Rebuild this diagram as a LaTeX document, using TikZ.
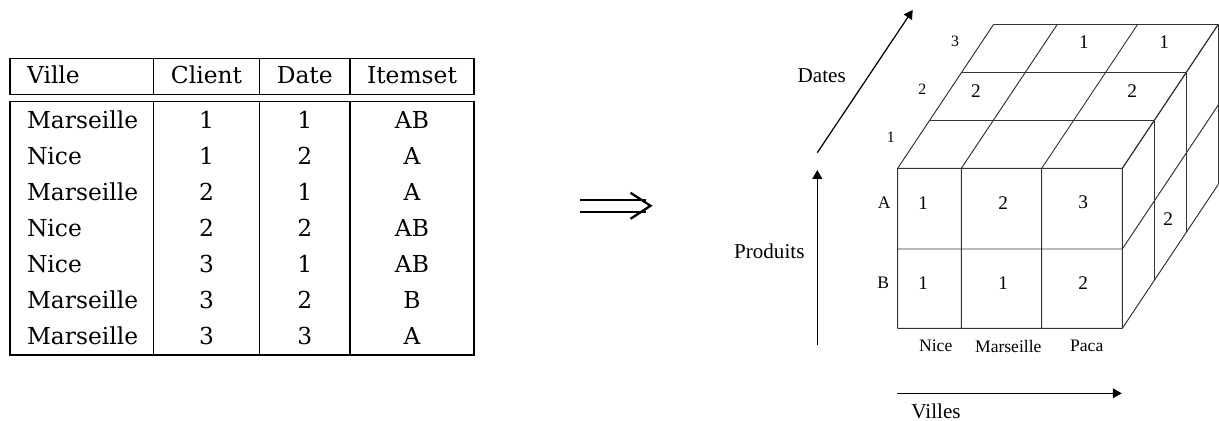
\documentclass[tikz,border=0pt]{standalone}
\usepackage{fontspec}
\newfontfamily\cubefont{Liberation Serif}
\newfontfamily\tabfont{DejaVu Serif}
\usetikzlibrary{arrows.meta}

\begin{document}
\begin{tikzpicture}[x=0.02cm,y=-0.02cm,
    tabline/.style={line width=0.6pt},
    tabcell/.style={inner sep=0pt,font=\tabfont\fontsize{13.3}{16}\selectfont},
    implline/.style={line width=1.3pt,line cap=butt},
    cubeline/.style={line width=0.55pt,black!80},
    cellval/.style={inner sep=0pt,font=\cubefont\fontsize{11}{13}\selectfont},
    axislbl/.style={inner sep=0pt,font=\cubefont\fontsize{12}{14}\selectfont},
    ticklbl/.style={inner sep=0pt,font=\cubefont\fontsize{10}{12}\selectfont},
    axisarrow/.style={line width=0.7pt,-{Triangle[length=5pt,width=5.5pt]}}]
    \useasboundingbox (0,0) rectangle (1219,421);

    % table
    \draw[tabline] (10,58.3) rectangle (474,94.3);
    \draw[tabline] (10,101.7) rectangle (474,355);
    \foreach \x in {153.7,259.3,350}
        \draw[tabline] (\x,58.3) -- (\x,94.3) (\x,101.7) -- (\x,355);
    \node[tabcell,anchor=base west] (hville) at (26.7,83.3) {Ville};
    \node[tabcell,anchor=base] (hclient) at (206.5,83.3) {Client};
    \node[tabcell,anchor=base] (hdate) at (304.7,83.3) {Date};
    \node[tabcell,anchor=base] (hitem) at (412,83.3) {Itemset};
    \foreach \v/\c/\d/\s [count=\r] in {Marseille/1/1/AB,Nice/1/2/A,Marseille/2/1/A,Nice/2/2/AB,Nice/3/1/AB,Marseille/3/2/B,Marseille/3/3/A}
    {
        \node[tabcell,anchor=base west] (ville\r) at (26.7,92.3+36*\r) {\v};
        \node[tabcell,anchor=base] (client\r) at (206.5,92.3+36*\r) {\c};
        \node[tabcell,anchor=base] (date\r) at (304.7,92.3+36*\r) {\d};
        \node[tabcell,anchor=base] (item\r) at (412,92.3+36*\r) {\s};
    }

    % implication
    \coordinate (impltop) at (580,200);
    \coordinate (implbot) at (580,211.7);
    \coordinate (impltip) at (650.5,205.8);
    \draw[implline] (impltop) -- ++(66,0) (implbot) -- ++(66,0);
    \draw[implline,line join=miter] (impltip) ++(-20,-13) -- (impltip) -- ++(-20,13);

    % cube: front face and slants
    \foreach \x in {897.7,961.3,1041.7,1122.3}
        \draw[cubeline] (\x,168.3) -- (\x,328.3) (\x,168.3) -- ++(96,-144);
    \foreach \y in {168.3,249,328.3}
        \draw[cubeline] (897.7,\y) -- (1122.3,\y) (1122.3,\y) -- ++(96,-144);
    % date layers behind
    \foreach \k in {1,2,3}
        \draw[cubeline] (897.7+32*\k,168.3-48*\k) -- (1122.3+32*\k,168.3-48*\k) -- ++(0,160);

    % values
    \node[cellval] (na1) at (923.3,202.7) {1};
    \node[cellval] (na2) at (1003.3,202.7) {2};
    \node[cellval] (na3) at (1083.3,202.7) {3};
    \node[cellval] (nb1) at (923.3,283.3) {1};
    \node[cellval] (nb2) at (1003.3,283.3) {1};
    \node[cellval] (nb3) at (1083.3,283.3) {2};
    \node[cellval] (t31) at (1084,42.3) {1};
    \node[cellval] (t32) at (1164.3,42.3) {1};
    \node[cellval] (t21) at (976,90.7) {2};
    \node[cellval] (t22) at (1132.3,90.7) {2};
    \node[cellval] (side) at (1168.3,219) {2};

    % tick labels
    \node[ticklbl,font=\cubefont\fontsize{9}{11}\selectfont] (dl3) at (955,41.7) {3};
    \node[ticklbl,font=\cubefont\fontsize{9}{11}\selectfont] (dl2) at (922.3,89.3) {2};
    \node[ticklbl,font=\cubefont\fontsize{9}{11}\selectfont] (dl1) at (890.7,137.7) {1};
    \node[ticklbl] (pa) at (884.3,202.3) {A};
    \node[ticklbl] (pb) at (883.3,282.3) {B};
    \node[ticklbl] (vnice) at (935.7,346) {Nice};
    \node[ticklbl] (vmars) at (1008.3,346) {Marseille};
    \node[ticklbl] (vpaca) at (1086.7,346) {Paca};

    % axes
    \coordinate (prodfoot) at (817.3,345);
    \coordinate (prodhead) at (817.3,170);
    \coordinate (villfoot) at (897.3,393.3);
    \coordinate (villhead) at (1121.7,393.3);
    \coordinate (datefoot) at (817.3,152.7);
    \coordinate (datehead) at (912.7,10);
    \draw[axisarrow] (prodfoot) -- (prodhead);
    \draw[axisarrow] (villfoot) -- (villhead);
    \draw[axisarrow] (datefoot) -- (datehead);
    \node[axislbl] (produits) at (769.3,251) {Produits};
    \node[axislbl] (villes) at (936,411.7) {Villes};
    \node[axislbl] (dates) at (821.7,75.7) {Dates};
\end{tikzpicture}
\end{document}
